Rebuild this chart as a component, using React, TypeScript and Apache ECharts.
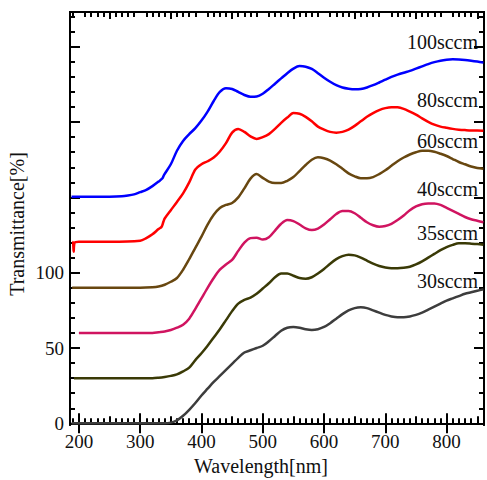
import React, { useEffect, useRef } from "react";
import * as echarts from "echarts";

// Transmittance spectra [nm, %] for each flow rate; curves are stacked with vertical offsets.
const T30: [number, number][] = [
  [188, 0], [250, 0], [300, 0], [340, 0], [350, 0.5], [360, 2], [370, 5], [380, 9], [390, 13.5], [400, 18.5],
  [410, 23], [420, 27.5], [430, 31.5], [440, 35.5], [450, 39.5], [460, 43.5], [470, 47], [480, 48.5], [490, 50],
  [500, 51.5], [510, 54.5], [520, 58], [530, 61.5], [540, 63.5], [550, 64], [560, 63.5], [570, 62.5], [580, 62],
  [590, 62.5], [600, 64], [610, 66.5], [620, 69.5], [630, 72.5], [640, 75], [650, 76.5], [660, 77], [670, 76.5],
  [680, 75], [690, 73.5], [700, 72], [710, 71], [720, 70.5], [730, 70.5], [740, 71], [750, 72], [760, 73.5],
  [770, 75.5], [780, 77.5], [790, 79.5], [800, 81.5], [810, 83], [820, 84.5], [830, 86], [840, 87], [850, 88], [860, 89],
];
const T35: [number, number][] = [
  [192, 0], [250, 0], [300, 0], [320, 0], [330, 0.3], [340, 0.8], [350, 1.5], [360, 2.5], [370, 4.5], [380, 7],
  [390, 12], [400, 16.5], [410, 21.5], [420, 27], [430, 32.5], [440, 38.5], [450, 44.5], [460, 49.5], [470, 52],
  [480, 53.5], [490, 56], [500, 59.5], [510, 63], [520, 67], [530, 69.5], [540, 69.5], [550, 68], [560, 66.5],
  [570, 66], [580, 67], [590, 69.5], [600, 72.5], [610, 76], [620, 79], [630, 81], [640, 82], [650, 81.5], [660, 80],
  [670, 78], [680, 76], [690, 74.5], [700, 73.5], [710, 73], [720, 73], [730, 73.3], [740, 74], [750, 75.5],
  [760, 77.5], [770, 80], [780, 82.5], [790, 85], [800, 87], [810, 88.5], [820, 89.5], [830, 89.5], [840, 89.3],
  [850, 89], [860, 88.5],
];
const T40: [number, number][] = [
  [200, 0], [250, 0], [300, 0], [320, 0], [330, 0.5], [340, 1], [350, 2], [360, 3.5], [370, 5.5], [380, 9.5],
  [390, 16], [400, 23], [410, 30], [420, 36.5], [430, 42], [440, 45.5], [450, 48.5], [460, 54.5], [470, 60],
  [480, 63], [490, 63.3], [500, 62], [510, 63.5], [520, 68], [530, 72.5], [540, 75], [550, 74.3], [560, 72],
  [570, 69.5], [580, 68.3], [590, 69.3], [600, 72], [610, 75.5], [620, 79], [630, 81], [640, 81], [650, 79.5],
  [660, 76.5], [670, 73.5], [680, 71.5], [690, 70.5], [700, 71], [710, 72.5], [720, 75], [730, 78], [740, 81.5],
  [750, 84], [760, 85.5], [770, 86], [780, 86], [790, 85], [800, 83], [810, 81], [820, 79], [830, 77], [840, 75.5],
  [850, 74.5], [860, 73.5],
];
const T60: [number, number][] = [
  [189, 0], [250, 0], [300, 0], [320, 0.3], [330, 0.8], [340, 2], [350, 4], [360, 6.5], [370, 12], [380, 19],
  [390, 26.5], [400, 34], [410, 42], [420, 48.5], [430, 53], [440, 55], [450, 56.3], [460, 60], [470, 66],
  [480, 72.5], [490, 75.5], [500, 73], [510, 70.5], [520, 69.5], [530, 69.5], [540, 71], [550, 73.5], [560, 77.5],
  [570, 81.5], [580, 85], [590, 86.6], [600, 86], [610, 84.5], [620, 82], [630, 79], [640, 76], [650, 74],
  [660, 72.7], [670, 72.7], [680, 73.5], [690, 75.5], [700, 78], [710, 81], [720, 84], [730, 86.5], [740, 88.5],
  [750, 90], [760, 91], [770, 91], [780, 90.3], [790, 89], [800, 87.5], [810, 85.5], [820, 83.5], [830, 82],
  [840, 80.5], [850, 79.5], [860, 79],
];
const T80: [number, number][] = [
  [189, 0.5], [190.5, 0], [191.5, -6], [193, 0], [200, 0.6], [250, 0.5], [300, 1.2], [310, 3], [320, 5.5],
  [330, 9], [335, 10.5], [338, 14], [340, 16], [350, 21.5], [360, 27], [370, 32.7], [380, 40], [390, 48.5],
  [400, 52], [410, 54], [420, 56.5], [430, 60.5], [440, 66], [450, 73], [460, 75.5], [470, 73.5], [480, 70.5],
  [490, 68.8], [500, 70], [510, 72], [520, 75.5], [530, 79.5], [540, 83], [550, 86], [560, 85.5], [570, 83.5],
  [580, 80.5], [590, 77], [600, 75], [610, 73.5], [620, 73], [630, 73.5], [640, 75], [650, 77.5], [660, 80.5],
  [670, 83.5], [680, 86], [690, 88], [700, 89.3], [710, 89.9], [720, 89.8], [730, 88.8], [740, 87], [750, 85],
  [760, 82.5], [770, 80.2], [780, 78.3], [790, 77], [800, 76.2], [810, 75.5], [820, 75], [830, 74.7], [840, 74.5],
  [850, 74.5], [860, 74.3],
];
const T100: [number, number][] = [
  [188, 0.5], [250, 0.5], [270, 0.7], [280, 1.2], [290, 2], [300, 3.5], [310, 5], [320, 7.5], [330, 10.5],
  [336, 12.5], [339, 15], [350, 22], [360, 31], [370, 37.5], [380, 42], [390, 46], [400, 51], [410, 57], [420, 64],
  [430, 70], [440, 72.5], [450, 72], [460, 70], [470, 68], [480, 66.8], [490, 67], [500, 68.8], [510, 72],
  [520, 75.5], [530, 79], [540, 82.5], [550, 85.5], [560, 87.2], [570, 86.8], [580, 85.3], [590, 82.5], [600, 79.5],
  [610, 76.8], [620, 74.5], [630, 73], [640, 72.2], [650, 71.8], [660, 72], [670, 73], [680, 74.5], [690, 76.3],
  [700, 78.2], [710, 80], [720, 81.5], [730, 82.8], [740, 84], [750, 85.5], [760, 87], [770, 88.5], [780, 89.8],
  [790, 90.8], [800, 91.4], [810, 91.7], [820, 91.6], [830, 91.3], [840, 90.8], [850, 90.2], [860, 89.5],
];

const seriesNames = ["30sccm", "35sccm", "40sccm", "60sccm", "80sccm", "100sccm"];
const seriesData = [T30, T35, T40, T60, T80, T100];
const offsets = [0, 30, 60, 90, 120, 150];
const colors = ["#3d3d3d", "#3a3a06", "#d01460", "#684710", "#ff0000", "#0000ff"];
// label anchor (vertical centre, px) for each curve's name at the right side
const labelY = [281, 233, 189, 141, 100, 42];

const xMajor = [200, 300, 400, 500, 600, 700, 800];
const xMid = [250, 350, 450, 550, 650, 750, 850];
const xMinor: number[] = [];
for (let v = 190; v <= 860; v += 10) if (v % 50 !== 0) xMinor.push(v);
const yMajor = [0, 50, 100, 150, 200, 250];
const yLabels = [0, 50, 100];
const yMinor: number[] = [];
for (let v = 10; v <= 270; v += 10) if (v % 50 !== 0) yMinor.push(v);

const X_MIN = 185.5;
const X_MAX = 861;
const Y_MIN = -1.1;
const Y_MAX = 273.1;

const FONT = "Liberation Serif";

export default function App() {
  const ref = useRef<HTMLDivElement>(null);
  useEffect(() => {
    document.body.style.margin = "0";
    if (!ref.current) return;
    const chart = echarts.init(ref.current, null, { renderer: "svg" });
    const axisLine = { show: true, lineStyle: { color: "#000", width: 2 } };
    const xAx = (position: string, ticks: number[], len: number, labels: boolean) => ({
      type: "value",
      position,
      min: X_MIN,
      max: X_MAX,
      axisLine: axisLine,
      splitLine: { show: false },
      axisTick: { show: true, inside: true, length: len, customValues: ticks, lineStyle: { color: "#000", width: 2 } },
      axisLabel: labels
        ? { show: true, customValues: ticks, fontFamily: FONT, fontSize: 19, color: "#111", margin: 7 }
        : { show: false },
    });
    const yAx = (position: string, ticks: number[], len: number, labels: boolean) => ({
      type: "value",
      position,
      min: Y_MIN,
      max: Y_MAX,
      axisLine: axisLine,
      splitLine: { show: false },
      axisTick: { show: true, inside: true, length: len, customValues: ticks, lineStyle: { color: "#000", width: 2 } },
      axisLabel: labels
        ? { show: true, customValues: yLabels, fontFamily: FONT, fontSize: 19, color: "#111", margin: 6 }
        : { show: false },
    });

    chart.setOption({
      animation: false,
      backgroundColor: "#fff",
      grid: { left: 70, right: 3, top: 12, bottom: 55, containLabel: false, outerBoundsMode: "none" },
      xAxis: [
        xAx("bottom", xMajor, 10, true),
        xAx("bottom", xMid, 7, false),
        xAx("bottom", xMinor, 5, false),
        xAx("top", xMajor, 10, false),
        xAx("top", xMid, 7, false),
        xAx("top", xMinor, 5, false),
      ],
      yAxis: [
        yAx("left", yMajor, 10, true),
        yAx("left", yMinor, 5, false),
        yAx("right", yMajor, 10, false),
        yAx("right", yMinor, 5, false),
      ],
      series: seriesData.map((d, i) => ({
        name: seriesNames[i],
        type: "line",
        xAxisIndex: 0,
        yAxisIndex: 0,
        showSymbol: false,
        smooth: 0.3,
        lineStyle: { color: colors[i], width: 2.5 },
        data: d.map(([x, y]) => [x, y + offsets[i]]),
      })),
      graphic: [
        ...seriesNames.map((n, i) => ({
          type: "text",
          x: 478,
          y: labelY[i],
          style: { text: n, fontFamily: FONT, fontSize: 20, fill: "#111", align: "right", verticalAlign: "middle" },
        })),
        {
          type: "text",
          x: 261,
          y: 456,
          style: { text: "Wavelength[nm]", fontFamily: FONT, fontSize: 20, fill: "#111", align: "center", verticalAlign: "top" },
        },
        {
          type: "text",
          x: 17,
          y: 224,
          rotation: Math.PI / 2,
          style: { text: "Transmittance[%]", fontFamily: FONT, fontSize: 20, fill: "#111", align: "center", verticalAlign: "middle" },
        },
      ],
    });
    return () => chart.dispose();
  }, []);
  return <div ref={ref} style={{ width: 487, height: 480 }} />;
}
